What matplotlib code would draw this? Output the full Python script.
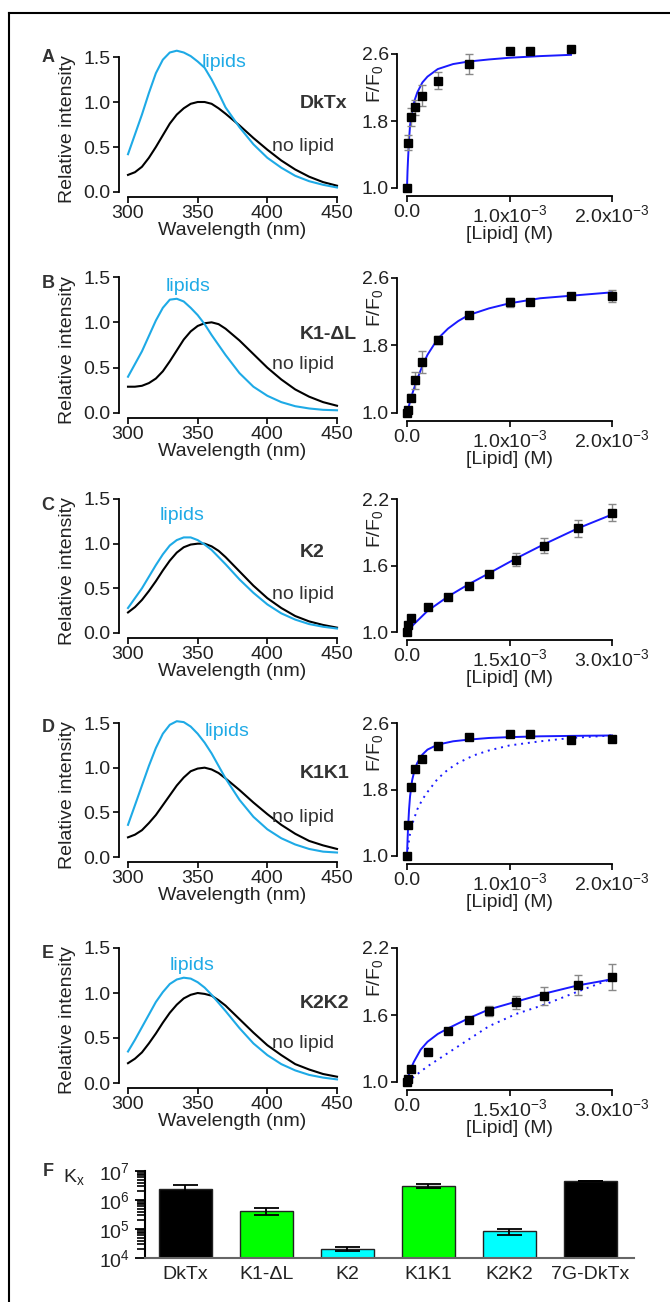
import numpy as np
import matplotlib
matplotlib.use("Agg")
import matplotlib.pyplot as plt
from matplotlib.lines import Line2D
from matplotlib.ticker import LogLocator, NullFormatter

plt.rcParams['font.family'] = ['Liberation Sans', 'DejaVu Sans']
plt.rcParams['mathtext.fontset'] = 'custom'
plt.rcParams['mathtext.rm'] = 'Liberation Sans'
plt.rcParams['mathtext.it'] = 'Liberation Sans:italic'
plt.rcParams['mathtext.bf'] = 'Liberation Sans:bold'

# ---- emission spectra (relative intensity) ----
wavelength = [300, 305, 310, 315, 320, 325, 330, 335, 340, 345, 350, 355, 360, 365, 370,
              380, 390, 400, 410, 420, 430, 440, 450]

A_lipids = [0.42, 0.64, 0.86, 1.10, 1.32, 1.47, 1.55, 1.57, 1.55, 1.51, 1.45, 1.38, 1.25,
            1.10, 0.94, 0.72, 0.53, 0.38, 0.27, 0.18, 0.12, 0.08, 0.05]
A_nolipid = [0.19, 0.22, 0.28, 0.38, 0.50, 0.63, 0.76, 0.86, 0.93, 0.98, 1.00, 1.00, 0.98,
             0.93, 0.87, 0.74, 0.60, 0.47, 0.35, 0.25, 0.17, 0.11, 0.07]
B_lipids = [0.40, 0.54, 0.68, 0.85, 1.02, 1.16, 1.25, 1.26, 1.23, 1.16, 1.08, 0.98, 0.86,
            0.75, 0.64, 0.44, 0.29, 0.19, 0.12, 0.075, 0.05, 0.035, 0.03]
B_nolipid = [0.29, 0.29, 0.30, 0.33, 0.38, 0.46, 0.57, 0.69, 0.81, 0.90, 0.96, 0.99, 1.00,
             0.98, 0.93, 0.80, 0.65, 0.50, 0.37, 0.26, 0.18, 0.12, 0.08]
C_lipids = [0.28, 0.39, 0.50, 0.63, 0.76, 0.88, 0.98, 1.04, 1.07, 1.07, 1.04, 0.99, 0.93,
            0.85, 0.77, 0.60, 0.45, 0.32, 0.22, 0.15, 0.10, 0.07, 0.05]
C_nolipid = [0.23, 0.29, 0.37, 0.47, 0.58, 0.70, 0.81, 0.90, 0.96, 0.99, 1.00, 1.00, 0.97,
             0.92, 0.85, 0.69, 0.53, 0.39, 0.28, 0.19, 0.13, 0.09, 0.06]
D_lipids = [0.36, 0.58, 0.80, 1.02, 1.22, 1.38, 1.48, 1.52, 1.51, 1.46, 1.38, 1.28, 1.16,
            1.02, 0.88, 0.64, 0.45, 0.31, 0.21, 0.14, 0.09, 0.06, 0.05]
D_nolipid = [0.22, 0.25, 0.30, 0.38, 0.47, 0.58, 0.69, 0.80, 0.89, 0.96, 0.99, 1.00, 0.98,
             0.94, 0.88, 0.75, 0.61, 0.48, 0.36, 0.26, 0.18, 0.13, 0.09]
E_lipids = [0.35, 0.48, 0.62, 0.76, 0.90, 1.01, 1.10, 1.15, 1.17, 1.16, 1.12, 1.06, 0.98,
            0.89, 0.80, 0.61, 0.44, 0.31, 0.21, 0.14, 0.09, 0.06, 0.04]
E_nolipid = [0.22, 0.27, 0.34, 0.44, 0.55, 0.67, 0.78, 0.87, 0.94, 0.98, 1.00, 0.99, 0.97,
             0.92, 0.86, 0.71, 0.56, 0.42, 0.31, 0.21, 0.15, 0.10, 0.07]

# ---- titration data, F/F0 vs [Lipid] (M) ----
A_conc = [0, 0.01e-3, 0.035e-3, 0.075e-3, 0.15e-3, 0.3e-3, 0.6e-3, 1.0e-3, 1.2e-3, 1.6e-3]
A_ratio = [1.0, 1.54, 1.845, 1.965, 2.10, 2.28, 2.48, 2.636, 2.636, 2.66]
A_err = [0, 0.09, 0.11, 0.09, 0.125, 0.10, 0.12, 0, 0, 0]
A_fit_x = [0, 0.005e-3, 0.01e-3, 0.02e-3, 0.03e-3, 0.05e-3, 0.075e-3, 0.1e-3, 0.15e-3, 0.2e-3,
           0.3e-3, 0.45e-3, 0.6e-3, 0.8e-3, 1.0e-3, 1.3e-3, 1.6e-3]
A_fit_y = [1.0, 1.20, 1.34, 1.58, 1.75, 1.92, 2.05, 2.14, 2.26, 2.33,
           2.42, 2.48, 2.51, 2.535, 2.555, 2.575, 2.59]

B_conc = [0, 0.01e-3, 0.035e-3, 0.075e-3, 0.15e-3, 0.3e-3, 0.6e-3, 1.0e-3, 1.2e-3, 1.6e-3, 2.0e-3]
B_ratio = [1.0, 1.03, 1.18, 1.39, 1.60, 1.865, 2.16, 2.31, 2.31, 2.39, 2.39]
B_err = [0, 0.02, 0.04, 0.10, 0.13, 0.05, 0.03, 0.05, 0.03, 0.03, 0.07]
B_fit_x = [0, 0.02e-3, 0.04e-3, 0.06e-3, 0.1e-3, 0.15e-3, 0.2e-3, 0.3e-3, 0.4e-3, 0.5e-3,
           0.6e-3, 0.8e-3, 1.0e-3, 1.3e-3, 1.6e-3, 2.0e-3]
B_fit_y = [1.0, 1.09, 1.18, 1.26, 1.40, 1.56, 1.69, 1.88, 2.0, 2.09,
           2.16, 2.24, 2.30, 2.36, 2.39, 2.43]

C_conc = [0, 0.0125e-3, 0.0625e-3, 0.3e-3, 0.6e-3, 0.9e-3, 1.2e-3, 1.6e-3, 2.0e-3, 2.5e-3, 3.0e-3]
C_ratio = [1.0, 1.06, 1.127, 1.226, 1.32, 1.416, 1.52, 1.654, 1.78, 1.935, 2.076]
C_err = [0, 0, 0, 0, 0.02, 0.02, 0.02, 0.055, 0.07, 0.08, 0.077]
C_fit_x = [0, 0.1e-3, 0.3e-3, 0.6e-3, 0.9e-3, 1.2e-3, 1.6e-3, 2.0e-3, 2.5e-3, 3.0e-3]
C_fit_y = [1.0, 1.07, 1.19, 1.32, 1.43, 1.53, 1.665, 1.79, 1.935, 2.06]

D_conc = [0, 0.01e-3, 0.035e-3, 0.075e-3, 0.15e-3, 0.3e-3, 0.6e-3, 1.0e-3, 1.2e-3, 1.6e-3, 2.0e-3]
D_ratio = [1.0, 1.374, 1.836, 2.045, 2.17, 2.32, 2.43, 2.47, 2.47, 2.40, 2.41]
D_err = [0, 0.04, 0.03, 0.02, 0.02, 0.02, 0.02, 0.02, 0.02, 0.03, 0.02]
D_fit_x = [0, 0.005e-3, 0.01e-3, 0.02e-3, 0.03e-3, 0.05e-3, 0.075e-3, 0.1e-3, 0.15e-3, 0.2e-3,
           0.3e-3, 0.45e-3, 0.6e-3, 0.8e-3, 1.0e-3, 1.3e-3, 1.6e-3, 2.0e-3]
D_fit_y = [1.0, 1.18, 1.33, 1.56, 1.72, 1.91, 2.04, 2.12, 2.22, 2.28,
           2.34, 2.38, 2.40, 2.42, 2.43, 2.44, 2.445, 2.45]
D_dot_x = [0, 0.01e-3, 0.025e-3, 0.05e-3, 0.1e-3, 0.15e-3, 0.2e-3, 0.3e-3, 0.4e-3, 0.5e-3,
           0.65e-3, 0.8e-3, 1.0e-3, 1.3e-3, 1.6e-3, 2.0e-3]
D_dot_y = [1.0, 1.10, 1.24, 1.38, 1.56, 1.68, 1.77, 1.93, 2.04, 2.12,
           2.21, 2.27, 2.33, 2.38, 2.42, 2.45]

E_conc = [0, 0.0125e-3, 0.0625e-3, 0.3e-3, 0.6e-3, 0.9e-3, 1.2e-3, 1.6e-3, 2.0e-3, 2.5e-3, 3.0e-3]
E_ratio = [1.0, 1.03, 1.115, 1.27, 1.46, 1.558, 1.64, 1.714, 1.77, 1.87, 1.944]
E_err = [0, 0, 0, 0, 0.02, 0.02, 0.045, 0.06, 0.08, 0.087, 0.116]
E_fit_x = [0, 0.02e-3, 0.05e-3, 0.1e-3, 0.2e-3, 0.3e-3, 0.45e-3, 0.6e-3, 0.9e-3, 1.2e-3,
           1.6e-3, 2.0e-3, 2.5e-3, 3.0e-3]
E_fit_y = [1.0, 1.05, 1.11, 1.18, 1.29, 1.36, 1.43, 1.48, 1.57, 1.65,
           1.72, 1.79, 1.865, 1.92]
E_dot_x = [0, 0.3e-3, 0.6e-3, 1.0e-3, 1.2e-3, 1.6e-3, 2.0e-3, 2.5e-3, 3.0e-3]
E_dot_y = [1.0, 1.14, 1.26, 1.42, 1.50, 1.61, 1.69, 1.81, 1.925]

peptides = ["DkTx", "K1-\u0394L", "K2", "K1K1", "K2K2"]
letters = ["A", "B", "C", "D", "E"]

# ---- panel F: partition coefficients ----
kx_names = ["DkTx", "K1-\u0394L", "K2", "K1K1", "K2K2", "7G-DkTx"]
kx_values = [2.4e6, 4.2e5, 2.1e4, 3.1e6, 8.3e4, 4.7e6]
kx_errors = [0.9e6, 1.2e5, 3e3, 0.5e6, 2e4, 0]
kx_colors = ["#000000", "#00ff00", "#00ffff", "#00ff00", "#00ffff", "#000000"]

ticks_2mM = [0, 1e-3, 2e-3]
labels_2mM = ["0.0", "1.0x10$^{\\mathrm{-3}}$", "2.0x10$^{\\mathrm{-3}}$"]
ticks_3mM = [0, 1.5e-3, 3e-3]
labels_3mM = ["0.0", "1.5x10$^{\\mathrm{-3}}$", "3.0x10$^{\\mathrm{-3}}$"]

CYAN = "#1eaae6"
BLUE = "#1a1aff"
TXT = "#222222"

W, H = 670, 1302
fig = plt.figure(figsize=(W / 100, H / 100), dpi=100)


def px_axes(l, t, r, b):
    return fig.add_axes([l / W, 1 - b / H, (r - l) / W, (b - t) / H])


def ftext(x, y, s, **kw):
    fig.text(x / W, 1 - y / H, s, **kw)


def style(ax, left_out, bottom_out):
    for s in ["top", "right"]:
        ax.spines[s].set_visible(False)
    ax.spines["left"].set_position(("outward", left_out))
    ax.spines["bottom"].set_position(("outward", bottom_out))
    for s in ["left", "bottom"]:
        ax.spines[s].set_linewidth(1.3)
    ax.tick_params(direction="out", length=4, width=1.2, labelsize=14,
                   labelcolor=TXT, pad=2)


# border of the figure
fig.add_artist(Line2D([9 / W, 1], [1 - 13 / H, 1 - 13 / H], transform=fig.transFigure,
                      color="k", lw=1.5))
fig.add_artist(Line2D([9 / W, 9 / W], [1 - 13 / H, 0], transform=fig.transFigure,
                      color="k", lw=1.5))

spectra = [(A_lipids, A_nolipid), (B_lipids, B_nolipid), (C_lipids, C_nolipid),
           (D_lipids, D_nolipid), (E_lipids, E_nolipid)]
titr = [(A_conc, A_ratio, A_err, A_fit_x, A_fit_y, None, None),
        (B_conc, B_ratio, B_err, B_fit_x, B_fit_y, None, None),
        (C_conc, C_ratio, C_err, C_fit_x, C_fit_y, None, None),
        (D_conc, D_ratio, D_err, D_fit_x, D_fit_y, D_dot_x, D_dot_y),
        (E_conc, E_ratio, E_err, E_fit_x, E_fit_y, E_dot_x, E_dot_y)]

left_top = [57, 277, 499, 723, 948]
left_bot = [192, 413, 633, 857, 1083]
right_top = [54, 278, 499, 723, 948]
right_bot = [188, 413, 632, 856, 1082]
lipid_lbl = [(353, 1.44), (327, 1.39), (323, 1.32), (355, 1.40), (330, 1.31)]
name_y = [0.98, 0.87, 0.90, 0.94, 0.88]
nolip_y = [0.51, 0.53, 0.43, 0.44, 0.44]
letter_y = [57, 283, 506, 728, 954]

for i in range(5):
    # left: spectra
    ax = px_axes(128, left_top[i], 337, left_bot[i])
    lip, nol = spectra[i]
    ax.plot(wavelength, nol, color="k", lw=1.5, clip_on=False)
    ax.plot(wavelength, lip, color=CYAN, lw=1.5, clip_on=False)
    ax.set_xlim(300, 450)
    ax.set_ylim(0, 1.5)
    ax.set_xticks([300, 350, 400, 450])
    ax.set_yticks([0.0, 0.5, 1.0, 1.5], labels=["0.0", "0.5", "1.0", "1.5"])
    style(ax, 6.5, 3.6)
    ax.set_xlabel("Wavelength (nm)", fontsize=14, color=TXT, labelpad=0)
    ax.text(lipid_lbl[i][0], lipid_lbl[i][1], "lipids", color=CYAN, fontsize=14,
            va="center", ha="left")
    ax.text(423, name_y[i], peptides[i], color="#333333", fontsize=14,
            fontweight="bold", va="center", ha="left")
    ax.text(403, nolip_y[i], "no lipid", color="#333333", fontsize=14,
            va="center", ha="left")
    ftext(68, (left_top[i] + left_bot[i]) / 2 + 5, "Relative intensity", rotation=90,
          ha="center", va="center", fontsize=14, color=TXT)
    ftext(48, letter_y[i], letters[i], fontsize=13, fontweight="bold",
          color="#333333", ha="center", va="center")

    # right: titration
    ax2 = px_axes(407, right_top[i], 612, right_bot[i])
    cx, cy, ce, fx, fy, dx, dy = titr[i]
    ax2.plot(fx, fy, color=BLUE, lw=1.4, clip_on=False, zorder=2)
    if dx is not None:
        ax2.plot(dx, dy, color=BLUE, lw=1.4, ls=(0, (1, 2.5)), clip_on=False, zorder=2)
    ax2.errorbar(cx, cy, yerr=ce, fmt="none", ecolor="#888888", elinewidth=1,
                 capsize=3, capthick=1, clip_on=False, zorder=3)
    ax2.plot(cx, cy, "s", color="k", ms=5.8, clip_on=False, zorder=4)
    if i in (2, 4):
        ax2.set_xlim(0, 3e-3)
        ax2.set_xticks(ticks_3mM, labels=labels_3mM)
        ax2.set_ylim(1.0, 2.2)
        ax2.set_yticks([1.0, 1.6, 2.2], labels=["1.0", "1.6", "2.2"])
    else:
        ax2.set_xlim(0, 2e-3)
        ax2.set_xticks(ticks_2mM, labels=labels_2mM)
        ax2.set_ylim(1.0, 2.6)
        ax2.set_yticks([1.0, 1.8, 2.6], labels=["1.0", "1.8", "2.6"])
    style(ax2, 7.2, 5.6)
    ax2.set_xlabel("[Lipid] (M)", fontsize=14, color=TXT, labelpad=0)
    ftext(375, right_top[i] + 30, "F/F$_{\\mathrm{0}}$", rotation=90, ha="center",
          va="center", fontsize=14, color=TXT)

# ---- panel F ----
axf = px_axes(145, 1171, 634, 1258)
xpos = np.arange(len(kx_names))
axf.set_yscale("log")
axf.bar(xpos, kx_values, width=0.65, color=kx_colors, edgecolor="#222222",
        linewidth=1, zorder=2)
axf.errorbar(xpos, kx_values, yerr=kx_errors, fmt="none", ecolor="k", elinewidth=1.3,
             capsize=9, capthick=1.3, zorder=3)
axf.set_ylim(1e4, 1e7)
axf.set_xlim(-0.5, 5.54)
axf.set_yticks([1e4, 1e5, 1e6, 1e7],
               labels=["10$^{4}$", "10$^{5}$", "10$^{6}$", "10$^{7}$"])
axf.yaxis.set_minor_locator(LogLocator(base=10, subs=np.arange(2, 10), numticks=20))
axf.yaxis.set_minor_formatter(NullFormatter())
axf.set_xticks(xpos, labels=kx_names)
for s in ["top", "right"]:
    axf.spines[s].set_visible(False)
axf.spines["left"].set_linewidth(1.5)
axf.spines["bottom"].set_color("#666666")
axf.spines["bottom"].set_linewidth(1.5)
axf.tick_params(axis="y", which="major", direction="out", length=7, width=1.3,
                labelsize=14, labelcolor=TXT, pad=4)
axf.tick_params(axis="y", which="minor", direction="out", length=6, width=1.2)
axf.tick_params(axis="x", length=0, labelsize=14, labelcolor=TXT, pad=6)
ftext(48, 1172, "F", fontsize=13, fontweight="bold", color="#333333",
      ha="center", va="center")
ftext(74, 1177, "K$_{\\mathrm{x}}$", fontsize=14, color=TXT, ha="center", va="center")

fig.savefig("out.png", dpi=100)
